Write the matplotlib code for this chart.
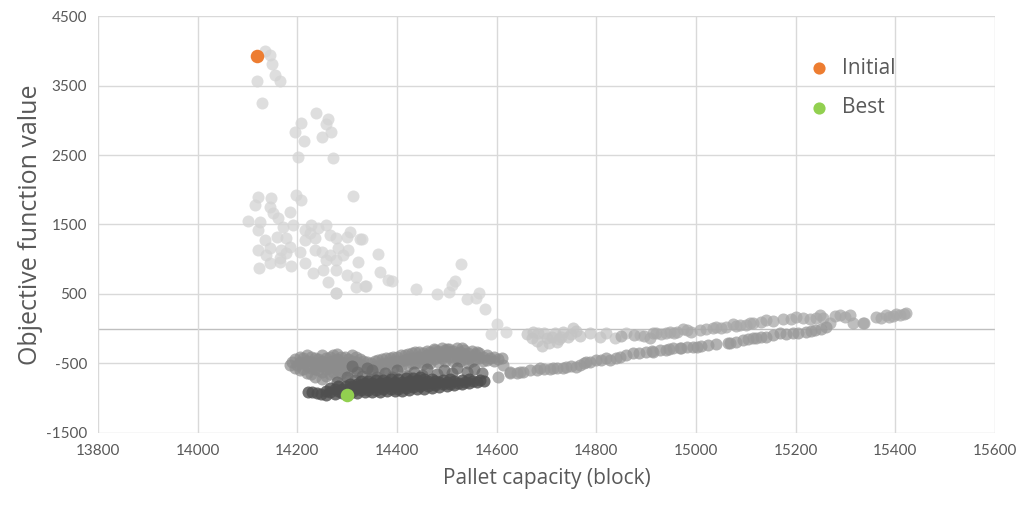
import matplotlib.pyplot as plt

# --- data ---
# early iterations, scattered (light gray)
light_x = [14136, 14146, 14150, 14155, 14166, 14118, 14130, 14237, 14261, 14257,
           14207, 14195, 14214, 14268, 14250, 14202, 14271, 14312, 14121, 14147,
           14198, 14115, 14145, 14208, 14100, 14126, 14121, 14152, 14162, 14185,
           14172, 14192, 14135, 14159, 14178, 14121, 14145, 14168, 14185, 14205,
           14138, 14165, 14178, 14123, 14145, 14165, 14188, 14215, 14228, 14225,
           14215, 14258, 14242, 14265, 14216, 14236, 14278, 14305, 14299, 14326,
           14236, 14250, 14265, 14282, 14292, 14302, 14278, 14258, 14322, 14361,
           14366, 14252, 14278, 14232, 14262, 14299, 14317, 14335, 14278, 14382,
           14317, 14390, 14329, 14337, 14278, 14438, 14481, 14505, 14511, 14517,
           14528, 14541, 14559, 14564, 14576, 14600, 14588, 14618]
light_y = [3996, 3939, 3805, 3651, 3569, 3569, 3244, 3100, 3013, 2946,
           2965, 2835, 2706, 2835, 2754, 2467, 2452, 1915, 1900, 1885,
           1924, 1780, 1756, 1852, 1550, 1540, 1420, 1660, 1588, 1684,
           1468, 1493, 1277, 1325, 1300, 1133, 1157, 1133, 1180, 1108,
           1060, 1013, 1085, 870, 942, 965, 903, 942, 1493, 1373,
           1420, 1493, 1445, 1349, 1277, 1300, 1300, 1397, 1325, 1286,
           1133, 1108, 1060, 1157, 1060, 1133, 989, 989, 965, 1075,
           821, 845, 845, 797, 677, 773, 605, 615, 519, 701,
           749, 687, 1286, 615, 510, 576, 495, 533, 629, 691,
           927, 428, 437, 518, 279, 68, -76, -52]

# upper branch around zero, left part (lighter)
upper1_x = [14660, 14670, 14683, 14690, 14700, 14710, 14720, 14733, 14743, 14754,
            14767, 14673, 14717, 14730, 14787, 14807, 14820, 14837, 14860, 14887,
            14695, 14725, 14750, 14760, 14680, 14705]
upper1_y = [-76, -138, -66, -244, -138, -115, -187, -43, -115, 5,
            -105, -43, -66, -115, -66, -115, -66, -138, -66, -90,
            -60, -150, -80, -30, -180, -200]

# upper branch, right part
upper2_x = [14907, 14920, 14940, 14961, 14981, 15007, 15034, 15061, 15088, 15115,
            14914, 14947, 14974, 15041, 15074, 15108, 15141, 15175, 15201, 15228,
            15248, 15268, 15288, 15308, 15315, 15338, 15361, 15382, 15402, 15421,
            15335, 15388, 15418, 14850, 14875, 14895, 14930, 14955, 14990, 15020,
            15050, 15080, 15100, 15130, 15155, 15190, 15215, 15240, 15255, 15278,
            15298, 15372, 15395, 15410]
upper2_y = [-138, -66, -66, -43, -19, -19, 5, 29, 53, 77,
            -66, -43, -10, 29, 68, 87, 125, 135, 164, 135,
            197, 87, 197, 197, 77, 87, 173, 197, 212, 221,
            77, 173, 212, -100, -90, -100, -80, -60, -40, -10,
            10, 40, 60, 90, 110, 140, 150, 160, 150, 190,
            170, 160, 190, 200]

# lower branch
lower_x = [14603, 14626, 14653, 14680, 14707, 14733, 14760, 14780, 14800, 14820,
           14613, 14627, 14647, 14667, 14687, 14713, 14740, 14767, 14787, 14827,
           14847, 14874, 14900, 14927, 14954, 14981, 15001, 15024, 15068, 15094,
           15115, 14914, 14940, 14967, 14994, 15064, 15121, 15141, 15168, 15194,
           15221, 15238, 15261, 14640, 14695, 14720, 14750, 14775, 14810, 14840,
           14860, 14885, 14912, 14945, 14970, 15010, 15040, 15080, 15105, 15130,
           15155, 15180, 15205, 15230, 15250]
lower_y = [-691, -643, -619, -595, -585, -571, -547, -475, -451, -427,
           -523, -619, -619, -595, -571, -571, -547, -523, -475, -451,
           -403, -355, -331, -307, -283, -259, -259, -234, -210, -163,
           -138, -330, -307, -283, -259, -210, -138, -115, -66, -66,
           -43, -19, 29, -630, -580, -560, -540, -500, -445, -420,
           -380, -345, -320, -295, -270, -250, -225, -190, -150, -125,
           -90, -70, -55, -30, 0]

# middle cluster
mid_x = [14185, 14195, 14195, 14205, 14205, 14205, 14220, 14220, 14220, 14220,
         14235, 14235, 14235, 14235, 14250, 14250, 14250, 14250, 14250, 14265,
         14265, 14265, 14265, 14280, 14280, 14280, 14280, 14280, 14295, 14295,
         14295, 14295, 14310, 14310, 14310, 14325, 14325, 14340, 14340, 14355,
         14355, 14370, 14370, 14385, 14385, 14400, 14400, 14415, 14415, 14430,
         14430, 14430, 14445, 14445, 14445, 14460, 14460, 14460, 14475, 14475,
         14475, 14490, 14490, 14490, 14505, 14505, 14505, 14520, 14520, 14520,
         14535, 14535, 14535, 14550, 14550, 14550, 14565, 14565, 14580, 14580,
         14595, 14595, 14610, 14476, 14500, 14530, 14560,
         14190, 14200, 14212, 14212, 14212, 14227, 14227, 14227, 14227, 14242,
         14242, 14242, 14257, 14257, 14257, 14257, 14272, 14272, 14272, 14272,
         14287, 14287, 14287, 14287, 14302, 14302, 14302, 14317, 14317, 14317,
         14332, 14332, 14347, 14347, 14362, 14362, 14362, 14377, 14377, 14377,
         14392, 14392, 14392, 14407, 14407, 14407, 14422, 14422, 14422, 14437,
         14437, 14437, 14452, 14452, 14452, 14467, 14467, 14467, 14482, 14482,
         14482, 14497, 14497, 14497, 14512, 14512, 14512, 14527, 14527, 14527,
         14542, 14542, 14542, 14557, 14557, 14572, 14572, 14587, 14602]
mid_y = [-520, -430, -560, -400, -480, -600, -380, -460, -540, -640,
         -420, -500, -580, -690, -380, -460, -540, -620, -720, -400,
         -480, -560, -650, -370, -440, -520, -600, -700, -410, -490,
         -570, -660, -380, -460, -540, -430, -510, -480, -560, -470,
         -540, -440, -510, -420, -490, -400, -470, -380, -450, -350,
         -420, -500, -330, -400, -480, -320, -380, -460, -290, -360,
         -440, -280, -350, -420, -290, -340, -410, -280, -350, -420,
         -300, -370, -440, -320, -390, -460, -350, -420, -380, -450,
         -400, -470, -420, -300, -285, -280, -330,
         -480, -520, -420, -500, -580, -400, -480, -560, -650, -440,
         -520, -600, -420, -500, -580, -680, -380, -460, -540, -620,
         -400, -480, -560, -640, -430, -510, -590, -400, -480, -560,
         -460, -540, -500, -580, -450, -530, -610, -420, -500, -580,
         -400, -480, -560, -380, -460, -540, -360, -440, -520, -340,
         -420, -500, -350, -430, -510, -330, -410, -490, -320, -400,
         -480, -310, -390, -470, -320, -400, -470, -330, -400, -470,
         -350, -420, -490, -370, -440, -400, -470, -420, -440]

# transition band
trans_x = [14300, 14320, 14340, 14330, 14360, 14390, 14420, 14450, 14480, 14510,
           14540, 14570, 14350, 14310, 14400, 14460, 14520, 14280, 14375, 14435,
           14495, 14555, 14315, 14345]
trans_y = [-700, -620, -560, -680, -700, -690, -680, -660, -650, -630,
           -620, -640, -600, -540, -600, -580, -560, -760, -640, -620,
           -600, -580, -740, -720]

# dark cluster (late iterations)
dark_x = [14222, 14240, 14258, 14258, 14275, 14275, 14290, 14290, 14305, 14305,
          14305, 14320, 14320, 14320, 14335, 14335, 14335, 14350, 14350, 14350,
          14365, 14365, 14365, 14380, 14380, 14380, 14395, 14395, 14395, 14410,
          14410, 14410, 14425, 14425, 14425, 14440, 14440, 14440, 14455, 14455,
          14455, 14470, 14470, 14470, 14485, 14485, 14500, 14500, 14515, 14515,
          14530, 14530, 14545, 14545, 14560, 14575,
          14230, 14248, 14266, 14266, 14282, 14282, 14298, 14298, 14312, 14312,
          14327, 14327, 14327, 14342, 14342, 14342, 14357, 14357, 14357, 14372,
          14372, 14372, 14387, 14387, 14387, 14402, 14402, 14402, 14417, 14417,
          14417, 14432, 14432, 14432, 14447, 14447, 14447, 14462, 14462, 14477,
          14477, 14492, 14492, 14507, 14507, 14522, 14537, 14552, 14567]
dark_y = [-906, -925, -950, -890, -935, -870, -930, -860, -925, -855,
          -800, -920, -850, -790, -915, -845, -785, -910, -840, -780,
          -905, -835, -775, -900, -830, -770, -895, -825, -765, -890,
          -820, -760, -880, -810, -750, -870, -800, -740, -860, -790,
          -730, -850, -780, -720, -840, -770, -830, -760, -815, -750,
          -800, -740, -785, -730, -770, -755,
          -915, -935, -910, -850, -900, -830, -890, -820, -890, -820,
          -885, -815, -750, -880, -810, -745, -875, -805, -740, -870,
          -800, -735, -865, -795, -730, -860, -790, -725, -850, -780,
          -715, -840, -770, -705, -830, -760, -700, -820, -750, -810,
          -745, -800, -735, -790, -725, -775, -760, -750, -740]

initial_pt = (14120, 3930)
best_pt = (14300, -950)

x_ticks = [13800, 14000, 14200, 14400, 14600, 14800, 15000, 15200, 15400, 15600]
y_ticks = [-1500, -500, 500, 1500, 2500, 3500, 4500]

plt.rcParams['font.family'] = ['Lato', 'DejaVu Sans']
plt.rcParams['axes.unicode_minus'] = False
TXT = '#595959'

fig = plt.figure(figsize=(10.19, 5.07), dpi=100)
ax = fig.add_axes([0.0962, 0.146, 0.8803, 0.8224])

S = 75
ax.scatter(light_x, light_y, s=S, color='#d4d4d4', alpha=0.75, linewidths=0, zorder=3)
ax.scatter(upper1_x, upper1_y, s=S, color='#c4c4c4', alpha=0.75, linewidths=0, zorder=3)
ax.scatter(upper2_x, upper2_y, s=S, color='#a8a8a8', alpha=0.75, linewidths=0, zorder=3)
ax.scatter(lower_x, lower_y, s=S, color='#999999', alpha=0.75, linewidths=0, zorder=3)
ax.scatter(mid_x, mid_y, s=S, color='#8c8c8c', alpha=0.7, linewidths=0, zorder=3)
ax.scatter(trans_x, trans_y, s=S, color='#6a6a6a', alpha=0.75, linewidths=0, zorder=3)
ax.scatter(dark_x, dark_y, s=S, color='#4f4f4f', alpha=0.8, linewidths=0, zorder=4)

ax.scatter([initial_pt[0]], [initial_pt[1]], s=95, color='#ED7D31', linewidths=0,
           zorder=5, label='Initial')
ax.scatter([best_pt[0]], [best_pt[1]], s=95, color='#92D050', linewidths=0,
           zorder=5, label='Best')

ax.set_xlim(13800, 15600)
ax.set_ylim(-1500, 4500)
ax.set_xticks(x_ticks)
ax.set_yticks(y_ticks)
ax.grid(True, color='#d9d9d9', linewidth=1, zorder=0)
ax.axhline(0, color='#bfbfbf', linewidth=1, zorder=1)
for sp in ax.spines.values():
    sp.set_visible(False)
ax.tick_params(length=0, labelsize=11, colors=TXT, pad=8)

ax.set_xlabel('Pallet capacity (block)', fontsize=15, color=TXT, labelpad=7,
              family='Open Sans')
ax.set_ylabel('Objective function value', fontsize=18, color=TXT, labelpad=2,
              family='Open Sans')

leg = ax.legend(loc='upper left', bbox_to_anchor=(0.76, 0.945), frameon=False,
                prop={'family': 'Open Sans', 'size': 15}, labelspacing=0.9,
                handletextpad=0.1, markerscale=0.9)
for t in leg.get_texts():
    t.set_color(TXT)

fig.savefig('out.png', dpi=100)
